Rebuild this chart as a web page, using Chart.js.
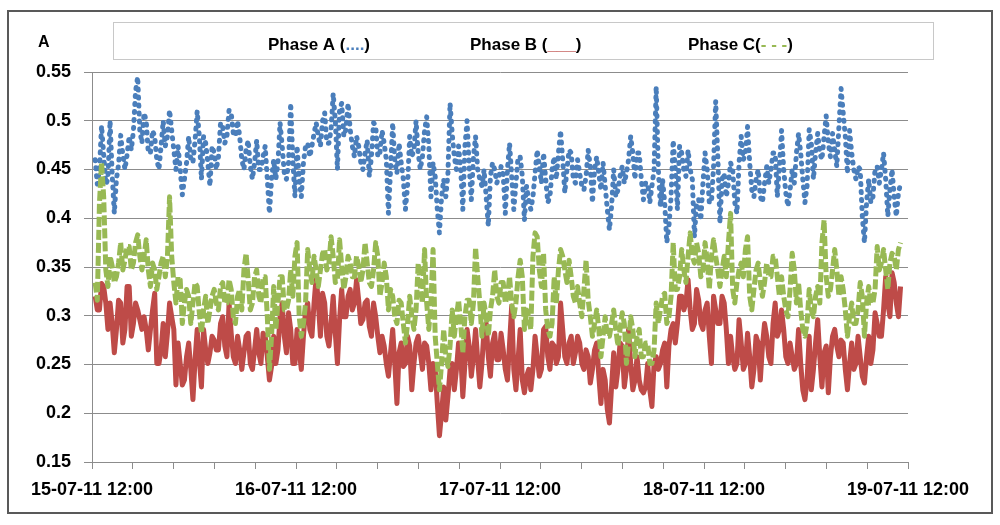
<!DOCTYPE html>
<html>
<head>
<meta charset="utf-8">
<title>Phase currents</title>
<script src="https://cdn.jsdelivr.net/npm/chart.js@4.4.1/dist/chart.umd.min.js"></script>
<style>
  html, body { margin: 0; padding: 0; background: #fff; }
  #wrap { width: 1000px; height: 525px; }
</style>
</head>
<body>
<div id="wrap"><canvas id="phaseChart" width="1000" height="525"></canvas></div>
<script>
// one reading every 15 minutes, hours counted from 15-07-11 12:00
const startHour = 0.375;
const stepHours = 0.25;

const xTickLabels = ["15-07-11 12:00", "16-07-11 12:00", "17-07-11 12:00", "18-07-11 12:00", "19-07-11 12:00"];
const unitLabel = "A";
const legendNames = ["Phase A (", "Phase B (", "Phase C("];
const legendMarks = ["....", "___", "- - -"];

const phaseA = [
  0.46, 0.435, 0.45, 0.495, 0.465, 0.435, 0.44, 0.50, 0.445, 0.405, 0.44, 0.455, 0.485, 0.465, 0.45, 0.465,
  0.484, 0.47, 0.49, 0.53, 0.545, 0.49, 0.477, 0.508, 0.50, 0.467, 0.467, 0.49, 0.484, 0.46, 0.45, 0.474,
  0.50, 0.474, 0.484, 0.511, 0.49, 0.47, 0.45, 0.474, 0.45, 0.424, 0.44, 0.457, 0.484, 0.46, 0.457, 0.48,
  0.51, 0.484, 0.44, 0.484, 0.477, 0.457, 0.433, 0.474, 0.467, 0.45, 0.463, 0.498, 0.494, 0.477, 0.484, 0.511,
  0.508, 0.487, 0.484, 0.50, 0.484, 0.46, 0.45, 0.47, 0.48, 0.453, 0.44, 0.457, 0.48, 0.45, 0.45, 0.463,
  0.474, 0.44, 0.405, 0.44, 0.46, 0.44, 0.457, 0.498, 0.474, 0.446, 0.44, 0.457, 0.518, 0.46, 0.422, 0.474,
  0.44, 0.422, 0.457, 0.474, 0.477, 0.463, 0.474, 0.487, 0.498, 0.484, 0.474, 0.50, 0.508, 0.477, 0.477, 0.491,
  0.528, 0.50, 0.45, 0.511, 0.518, 0.484, 0.491, 0.518, 0.491, 0.474, 0.463, 0.484, 0.474, 0.457, 0.45, 0.467,
  0.48, 0.443, 0.463, 0.498, 0.495, 0.463, 0.467, 0.49, 0.477, 0.46, 0.405, 0.45, 0.498, 0.457, 0.446, 0.477,
  0.457, 0.44, 0.409, 0.433, 0.484, 0.463, 0.47, 0.50, 0.467, 0.45, 0.463, 0.49, 0.504, 0.474, 0.422, 0.457,
  0.443, 0.409, 0.385, 0.422, 0.44, 0.422, 0.446, 0.518, 0.487, 0.463, 0.45, 0.474, 0.45, 0.409, 0.474, 0.50,
  0.453, 0.419, 0.463, 0.484, 0.45, 0.44, 0.433, 0.45, 0.422, 0.392, 0.443, 0.457, 0.45, 0.436, 0.443, 0.453,
  0.445, 0.405, 0.45, 0.477, 0.443, 0.409, 0.436, 0.463, 0.463, 0.443, 0.398, 0.433, 0.419, 0.409, 0.422, 0.446,
  0.47, 0.453, 0.436, 0.467, 0.44, 0.416, 0.422, 0.45, 0.463, 0.44, 0.467, 0.49, 0.46, 0.426, 0.45, 0.47,
  0.467, 0.44, 0.436, 0.46, 0.446, 0.433, 0.429, 0.443, 0.47, 0.453, 0.416, 0.45, 0.463, 0.446, 0.429, 0.457,
  0.433, 0.409, 0.388, 0.412, 0.45, 0.422, 0.429, 0.443, 0.453, 0.436, 0.446, 0.46, 0.484, 0.467, 0.44, 0.467,
  0.467, 0.44, 0.419, 0.436, 0.436, 0.416, 0.433, 0.45, 0.535, 0.45, 0.412, 0.44, 0.416, 0.375, 0.392, 0.422,
  0.48, 0.45, 0.409, 0.474, 0.467, 0.45, 0.443, 0.47, 0.45, 0.44, 0.381, 0.416, 0.419, 0.398, 0.436, 0.467,
  0.45, 0.416, 0.416, 0.453, 0.52, 0.463, 0.395, 0.44, 0.446, 0.422, 0.436, 0.457, 0.45, 0.416, 0.405, 0.457,
  0.484, 0.46, 0.467, 0.494, 0.457, 0.429, 0.422, 0.44, 0.45, 0.422, 0.416, 0.436, 0.453, 0.436, 0.45, 0.467,
  0.467, 0.422, 0.453, 0.49, 0.45, 0.426, 0.412, 0.429, 0.45, 0.436, 0.467, 0.487, 0.467, 0.44, 0.416, 0.433,
  0.491, 0.477, 0.44, 0.467, 0.487, 0.467, 0.46, 0.484, 0.505, 0.477, 0.463, 0.487, 0.47, 0.453, 0.494, 0.533,
  0.508, 0.484, 0.446, 0.49, 0.467, 0.45, 0.44, 0.453, 0.45, 0.402, 0.375, 0.416, 0.44, 0.416, 0.422, 0.45,
  0.453, 0.436, 0.45, 0.467, 0.44, 0.402, 0.429, 0.45, 0.422, 0.402, 0.426, 0.436
];

const phaseB = [
  0.32, 0.306, 0.306, 0.333, 0.33, 0.313, 0.286, 0.313, 0.292, 0.262, 0.286, 0.316, 0.313, 0.272, 0.286, 0.33,
  0.33, 0.279, 0.292, 0.313, 0.306, 0.296, 0.286, 0.299, 0.286, 0.265, 0.286, 0.306, 0.323, 0.251, 0.251, 0.265,
  0.292, 0.258, 0.282, 0.313, 0.299, 0.286, 0.229, 0.272, 0.251, 0.229, 0.234, 0.258, 0.272, 0.245, 0.214, 0.255,
  0.286, 0.255, 0.227, 0.286, 0.265, 0.251, 0.262, 0.279, 0.275, 0.265, 0.265, 0.292, 0.299, 0.269, 0.258, 0.313,
  0.282, 0.258, 0.251, 0.279, 0.265, 0.245, 0.262, 0.279, 0.282, 0.251, 0.245, 0.265, 0.286, 0.262, 0.251, 0.282,
  0.279, 0.258, 0.234, 0.248, 0.279, 0.251, 0.265, 0.299, 0.313, 0.279, 0.262, 0.303, 0.286, 0.251, 0.251, 0.286,
  0.265, 0.245, 0.279, 0.306, 0.313, 0.286, 0.279, 0.313, 0.34, 0.313, 0.279, 0.323, 0.313, 0.279, 0.269, 0.292,
  0.32, 0.282, 0.251, 0.296, 0.327, 0.299, 0.299, 0.32, 0.327, 0.306, 0.313, 0.337, 0.316, 0.292, 0.296, 0.313,
  0.316, 0.289, 0.279, 0.313, 0.299, 0.279, 0.262, 0.279, 0.269, 0.251, 0.238, 0.262, 0.286, 0.251, 0.21, 0.262,
  0.272, 0.248, 0.251, 0.279, 0.269, 0.224, 0.251, 0.272, 0.279, 0.262, 0.245, 0.272, 0.269, 0.251, 0.224, 0.251,
  0.245, 0.21, 0.177, 0.20, 0.227, 0.193, 0.217, 0.245, 0.251, 0.224, 0.245, 0.272, 0.262, 0.217, 0.251, 0.286,
  0.269, 0.238, 0.258, 0.286, 0.255, 0.227, 0.251, 0.286, 0.292, 0.258, 0.238, 0.272, 0.282, 0.255, 0.255, 0.282,
  0.265, 0.245, 0.234, 0.272, 0.31, 0.245, 0.224, 0.255, 0.286, 0.234, 0.221, 0.238, 0.245, 0.224, 0.245, 0.279,
  0.258, 0.238, 0.245, 0.286, 0.289, 0.258, 0.245, 0.272, 0.269, 0.251, 0.258, 0.313, 0.286, 0.258, 0.251, 0.272,
  0.279, 0.251, 0.262, 0.279, 0.272, 0.251, 0.245, 0.265, 0.258, 0.231, 0.245, 0.265, 0.272, 0.238, 0.21, 0.245,
  0.234, 0.204, 0.19, 0.227, 0.262, 0.227, 0.245, 0.272, 0.269, 0.227, 0.245, 0.286, 0.251, 0.224, 0.234, 0.258,
  0.234, 0.224, 0.221, 0.227, 0.251, 0.224, 0.207, 0.251, 0.258, 0.245, 0.251, 0.265, 0.272, 0.227, 0.269, 0.286,
  0.292, 0.272, 0.292, 0.32, 0.32, 0.306, 0.313, 0.337, 0.306, 0.286, 0.292, 0.327, 0.316, 0.292, 0.286, 0.306,
  0.313, 0.279, 0.251, 0.32, 0.306, 0.292, 0.292, 0.32, 0.313, 0.286, 0.251, 0.279, 0.258, 0.245, 0.251, 0.296,
  0.272, 0.245, 0.251, 0.282, 0.258, 0.227, 0.245, 0.279, 0.272, 0.234, 0.269, 0.292, 0.279, 0.258, 0.251, 0.292,
  0.313, 0.279, 0.286, 0.306, 0.286, 0.258, 0.251, 0.272, 0.258, 0.245, 0.251, 0.286, 0.251, 0.224, 0.214, 0.234,
  0.279, 0.224, 0.245, 0.272, 0.296, 0.258, 0.227, 0.262, 0.269, 0.221, 0.258, 0.279, 0.286, 0.269, 0.258, 0.275,
  0.272, 0.245, 0.224, 0.251, 0.272, 0.245, 0.251, 0.279, 0.258, 0.238, 0.231, 0.258, 0.279, 0.251, 0.265, 0.303,
  0.292, 0.279, 0.279, 0.306, 0.34, 0.313, 0.299, 0.344, 0.334, 0.313, 0.299, 0.33
];

const phaseC = [
  0.334, 0.316, 0.415, 0.457, 0.422, 0.347, 0.33, 0.361, 0.351, 0.334, 0.34, 0.354, 0.375, 0.347, 0.357, 0.371,
  0.371, 0.347, 0.354, 0.375, 0.383, 0.361, 0.347, 0.361, 0.378, 0.347, 0.33, 0.354, 0.347, 0.327, 0.34, 0.354,
  0.361, 0.34, 0.361, 0.422, 0.361, 0.334, 0.313, 0.34, 0.337, 0.292, 0.313, 0.327, 0.32, 0.292, 0.313, 0.334,
  0.33, 0.303, 0.282, 0.306, 0.32, 0.292, 0.306, 0.32, 0.327, 0.313, 0.306, 0.33, 0.334, 0.313, 0.313, 0.337,
  0.327, 0.299, 0.292, 0.32, 0.327, 0.306, 0.347, 0.364, 0.337, 0.306, 0.313, 0.34, 0.347, 0.32, 0.313, 0.34,
  0.34, 0.299, 0.245, 0.279, 0.33, 0.286, 0.313, 0.34, 0.34, 0.306, 0.306, 0.316, 0.347, 0.32, 0.361, 0.375,
  0.299, 0.279, 0.292, 0.313, 0.368, 0.347, 0.334, 0.361, 0.347, 0.33, 0.347, 0.364, 0.368, 0.347, 0.354, 0.381,
  0.361, 0.334, 0.337, 0.378, 0.351, 0.327, 0.34, 0.361, 0.354, 0.34, 0.34, 0.361, 0.351, 0.334, 0.347, 0.375,
  0.354, 0.334, 0.33, 0.347, 0.375, 0.361, 0.32, 0.334, 0.354, 0.34, 0.306, 0.327, 0.32, 0.299, 0.292, 0.316,
  0.313, 0.292, 0.272, 0.292, 0.32, 0.299, 0.286, 0.306, 0.354, 0.33, 0.313, 0.368, 0.313, 0.286, 0.313, 0.368,
  0.279, 0.251, 0.224, 0.251, 0.286, 0.258, 0.248, 0.269, 0.306, 0.279, 0.299, 0.316, 0.292, 0.262, 0.299, 0.316,
  0.316, 0.292, 0.313, 0.37, 0.34, 0.313, 0.279, 0.313, 0.299, 0.279, 0.306, 0.32, 0.347, 0.32, 0.313, 0.334,
  0.334, 0.313, 0.32, 0.34, 0.313, 0.299, 0.313, 0.34, 0.357, 0.34, 0.286, 0.306, 0.299, 0.286, 0.361, 0.385,
  0.381, 0.347, 0.33, 0.364, 0.306, 0.286, 0.279, 0.292, 0.34, 0.313, 0.347, 0.368, 0.361, 0.347, 0.334, 0.357,
  0.34, 0.32, 0.313, 0.33, 0.313, 0.299, 0.327, 0.357, 0.316, 0.299, 0.279, 0.292, 0.306, 0.286, 0.258, 0.279,
  0.299, 0.279, 0.279, 0.292, 0.306, 0.286, 0.269, 0.286, 0.303, 0.292, 0.251, 0.272, 0.299, 0.286, 0.258, 0.279,
  0.286, 0.258, 0.258, 0.272, 0.272, 0.251, 0.251, 0.265, 0.313, 0.292, 0.306, 0.32, 0.323, 0.292, 0.299, 0.32,
  0.375, 0.327, 0.327, 0.34, 0.368, 0.347, 0.334, 0.361, 0.385, 0.361, 0.354, 0.375, 0.364, 0.34, 0.347, 0.375,
  0.357, 0.327, 0.361, 0.378, 0.361, 0.347, 0.33, 0.347, 0.361, 0.34, 0.375, 0.405, 0.327, 0.313, 0.334, 0.347,
  0.354, 0.34, 0.368, 0.381, 0.32, 0.306, 0.327, 0.347, 0.354, 0.334, 0.32, 0.334, 0.354, 0.34, 0.34, 0.361,
  0.361, 0.34, 0.32, 0.34, 0.32, 0.306, 0.299, 0.327, 0.364, 0.347, 0.313, 0.334, 0.306, 0.286, 0.279, 0.292,
  0.327, 0.306, 0.299, 0.32, 0.33, 0.313, 0.375, 0.398, 0.34, 0.32, 0.327, 0.347, 0.368, 0.347, 0.32, 0.34,
  0.327, 0.306, 0.279, 0.299, 0.313, 0.292, 0.292, 0.306, 0.334, 0.32, 0.279, 0.313, 0.33, 0.313, 0.313, 0.327,
  0.371, 0.347, 0.354, 0.368, 0.347, 0.327, 0.354, 0.364, 0.361, 0.347, 0.368, 0.375
];

const colors = ["#4a7ebb", "#be4b48", "#98b954"];
const fontFamily = "'Liberation Sans', Arial, sans-serif";

function toPoints(values) {
  return values.map((v, i) => ({ x: startHour + i * stepHours, y: v }));
}

// white page, outer frame, unit label and the text legend
const framePlugin = {
  id: "frame",
  beforeDraw(chart) {
    const ctx = chart.ctx;
    ctx.save();
    ctx.fillStyle = "#fff";
    ctx.fillRect(0, 0, chart.width, chart.height);
    ctx.restore();
  },
  afterDraw(chart) {
    const ctx = chart.ctx;
    ctx.save();
    ctx.strokeStyle = "#595959";
    ctx.lineWidth = 2;
    ctx.strokeRect(8, 11, 984, 502);

    ctx.strokeStyle = "#c8c8c8";
    ctx.lineWidth = 1;
    ctx.strokeRect(113.5, 22.5, 820, 37);

    ctx.fillStyle = "#000";
    ctx.font = "bold 16px " + fontFamily;
    ctx.textBaseline = "middle";
    ctx.textAlign = "left";
    ctx.fillText(unitLabel, 38, 43);

    ctx.font = "bold 17px " + fontFamily;
    const starts = [268, 470, 688];
    legendNames.forEach((name, i) => {
      let x = starts[i];
      ctx.fillStyle = "#000";
      ctx.fillText(name, x, 45);
      x += ctx.measureText(name).width;
      ctx.fillStyle = colors[i];
      ctx.fillText(legendMarks[i], x, 45);
      x += ctx.measureText(legendMarks[i]).width;
      ctx.fillStyle = "#000";
      ctx.fillText(")", x, 45);
    });
    ctx.restore();
  },
};

const ctx = document.getElementById("phaseChart").getContext("2d");

new Chart(ctx, {
  type: "line",
  data: {
    datasets: [
      {
        label: "Phase A",
        data: toPoints(phaseA),
        borderColor: colors[0],
        borderWidth: 5,
        borderDash: [1, 7],
        borderCapStyle: "round",
        borderJoinStyle: "round",
        order: 3,
      },
      {
        label: "Phase B",
        data: toPoints(phaseB),
        borderColor: colors[1],
        borderWidth: 5,
        borderJoinStyle: "round",
        order: 2,
      },
      {
        label: "Phase C",
        data: toPoints(phaseC),
        borderColor: colors[2],
        borderWidth: 5,
        borderDash: [10, 3],
        borderJoinStyle: "round",
        order: 1,
      },
    ],
  },
  options: {
    responsive: false,
    animation: false,
    devicePixelRatio: 1,
    layout: { padding: { left: 0, right: 92, top: 72, bottom: 0 } },
    elements: {
      point: { radius: 0 },
      line: { tension: 0, fill: false },
    },
    plugins: {
      legend: { display: false },
      tooltip: { enabled: false },
    },
    scales: {
      x: {
        type: "linear",
        min: 0,
        max: 96,
        afterFit(axis) {
          axis.height = 63;
        },
        border: { display: true, color: "#8c8c8c" },
        grid: {
          drawOnChartArea: false,
          drawTicks: true,
          tickLength: 7,
          color: "#8c8c8c",
        },
        ticks: {
          stepSize: 4.8,
          autoSkip: false,
          maxRotation: 0,
          minRotation: 0,
          padding: 10,
          color: "#000",
          font: { family: fontFamily, size: 18, weight: "bold" },
          callback: function (value) {
            const day = value / 24;
            if (Math.abs(day - Math.round(day)) < 1e-6) {
              return xTickLabels[Math.round(day)];
            }
            return "";
          },
        },
      },
      y: {
        min: 0.15,
        max: 0.55,
        afterFit(axis) {
          axis.width = 92;
        },
        border: { display: true, color: "#8c8c8c" },
        grid: { color: "#8c8c8c", tickLength: 8 },
        ticks: {
          stepSize: 0.05,
          padding: 13,
          color: "#000",
          font: { family: fontFamily, size: 18, weight: "bold" },
          callback: (value) => Number(value.toFixed(2)).toString(),
        },
      },
    },
  },
  plugins: [framePlugin],
});
</script>
</body>
</html>
